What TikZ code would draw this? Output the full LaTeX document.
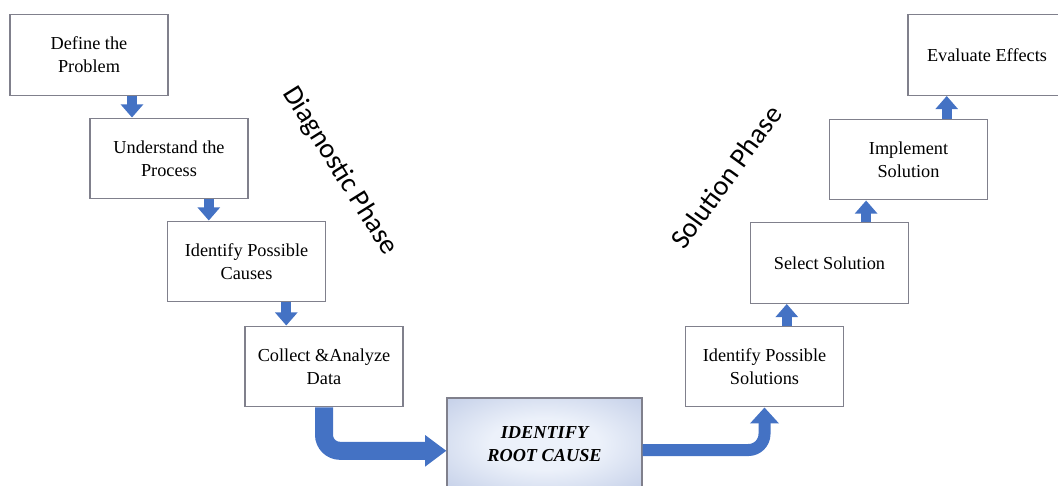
\documentclass[tikz,border=0pt]{standalone}
\usepackage{fontspec}
\setmainfont{Liberation Serif}
\newfontfamily\phasefont{Carlito}
\usetikzlibrary{arrows.meta,calc}
\definecolor{flowblue}{RGB}{68,114,196}
\definecolor{boxline}{RGB}{128,128,140}
\definecolor{rootedge}{RGB}{178,192,224}
\definecolor{rootmid}{RGB}{236,241,250}
\pgfdeclareradialshading{rootshade}{\pgfpoint{0bp}{0bp}}{color(0bp)=(rootmid); color(14bp)=(rootmid);
  color(46bp)=(rootedge); color(70bp)=(rootedge)}
\tikzset{
  stepbox/.style={draw=boxline,fill=white,line width=0.8pt,minimum width=3.95cm,minimum height=2.02cm,
    align=center,font=\fontsize{13}{16.4}\selectfont},
  smallflow/.style={draw=flowblue,line width=0.25cm,-{Triangle[length=0.33cm,width=0.55cm]}},
  bigflow/.style={draw=flowblue,line width=0.45cm,rounded corners=0.4cm,-{Triangle[length=0.53cm,width=0.75cm]}},
  phase/.style={font=\phasefont\fontsize{20}{24}\selectfont}
}

\begin{document}
\begin{tikzpicture}[x=0.025cm,y=-0.025cm]
  \useasboundingbox (0,0) rectangle (1058,486);
  % the steps on both sides
  \foreach \x/\y/\n/\t in {
    89/55/def/Define the\\Problem,
    169/158.5/und/Understand the\\Process,
    246.5/261.5/cau/Identify Possible\\Causes,
    324/366.5/col/Collect \&Analyze\\Data,
    764.5/366.5/sol/Identify Possible\\Solutions,
    829.5/263/sel/Select Solution,
    908.5/159.5/imp/Implement\\Solution,
    987/55/eva/Evaluate Effects}
  {
    \node[stepbox] (\n) at (\x,\y) {\t};
  }
  \node[draw=boxline,line width=0.8pt,shading=rootshade,minimum width=4.875cm,minimum height=2.3cm,
    align=center,font=\fontsize{13}{16.4}\selectfont\bfseries\itshape] (root) at (544.5,444) {IDENTIFY\\ROOT CAUSE};

  % phase labels
  \node[phase,rotate=-58] (diag) at (340,171) {Diagnostic Phase};
  \node[phase,rotate=54] (solph) at (726,177) {Solution Phase};

  % arrows between the steps
  \foreach \a/\b/\f in {def/und/.77,und/cau/.75,cau/col/.75}
  {
    \coordinate (m) at ($(\a.south west)!\f!(\a.south east)$);
    \draw[smallflow] (m) -- (m |- \b.north);
  }
  \foreach \a/\b/\f in {sol/sel/.64,sel/imp/.73,imp/eva/.74}
  {
    \coordinate (m) at ($(\a.north west)!\f!(\a.north east)$);
    \draw[smallflow] (m) -- (m |- \b.south);
  }
  \draw[bigflow] (col.south) |- ([yshift=-0.17cm]root.west);
  \draw[bigflow,line width=0.3cm,-{Triangle[length=0.4cm,width=0.7cm]}] ([yshift=-0.15cm]root.east) -| (sol.south);
\end{tikzpicture}
\end{document}
